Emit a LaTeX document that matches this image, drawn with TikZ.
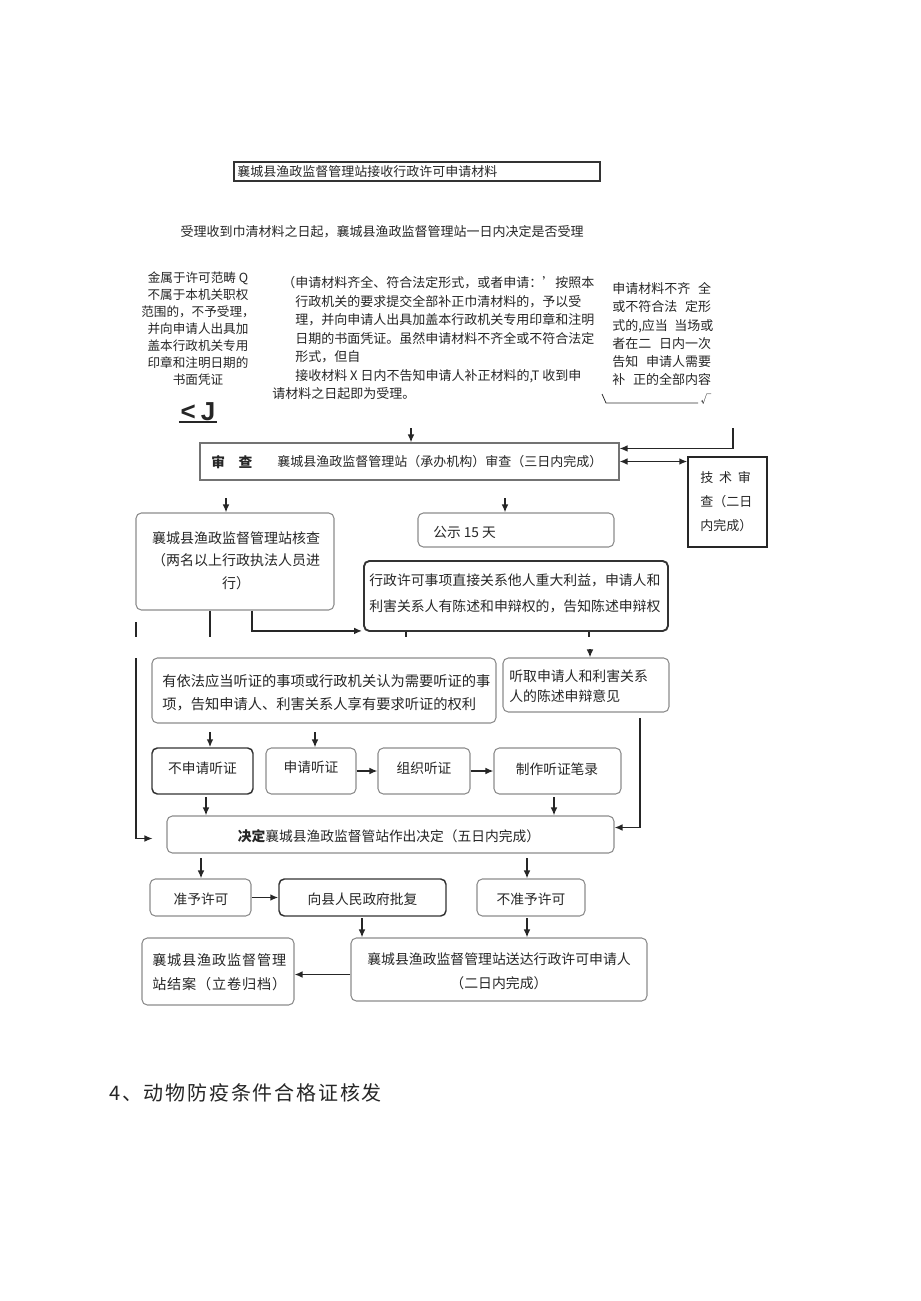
\documentclass[tikz,border=0pt]{standalone}
\usepackage{fontspec}
\setmainfont{Noto Sans CJK SC}
\newfontfamily\headfont{Noto Sans CJK SC}[LetterSpace=9]
\newfontfamily\ljfont{Liberation Sans}
\usetikzlibrary{arrows.meta,calc,fit}
\begin{document}
\begin{tikzpicture}[x=0.75pt,y=-0.75pt,
  every node/.style={inner sep=0pt, text=black!85},
  gbox/.style={draw=black!45, line width=0.8pt, rounded corners=4pt, inner sep=0pt},
  dbox/.style={draw=black!80, line width=1.1pt, rounded corners=4pt, inner sep=0pt},
  sbox/.style={draw=black!55, line width=0.8pt, inner sep=0pt},
  ln/.style={draw=black!85, line width=1.1pt},
  arr/.style={ln, -{Latex[length=6pt,width=5pt]}},
  arrtwo/.style={ln, {Latex[length=6pt,width=5pt]}-{Latex[length=6pt,width=5pt]}},
  fa/.style={font=\fontsize{9.75pt}{13.65pt}\selectfont},
  fm/.style={font=\fontsize{9.75pt}{13.9pt}\selectfont},
  fl/.style={font=\fontsize{9.45pt}{12.7pt}\selectfont},
  fb/.style={font=\fontsize{10.3pt}{14pt}\selectfont},
]
\useasboundingbox[fill=white] (0,0) rectangle (920,1301);

% ---------- top part ----------
\node[sbox, draw=black!80, fit={(234,162) (600,181)}] (top) {};
\node[fa, anchor=west] (ttop) at (237,172) {襄城县渔政监督管理站接收行政许可申请材料};
\node[fa] (accept) at (382,232) {受理收到巾清材料之日起，襄城县渔政监督管理站一日内决定是否受理};

\node[fl, anchor=north, align=center] (refuse) at (198,271.6) {金属于许可范畴 Q\\不属于本机关职权\\范围的，不予受理，\\并向申请人出具加\\盖本行政机关专用\\印章和注明日期的\\书面凭证};
\node[font=\ljfont\bfseries\fontsize{19.5pt}{20pt}\selectfont, anchor=base] (lj) at (198,420) {<\hspace{0.2em}J};
\draw[line width=1.5pt, black!85] ([yshift=-1.5pt,xshift=-1pt]lj.base west) -- ([yshift=-1.5pt,xshift=1pt]lj.base east);

\node[fm, anchor=north west, align=left] (acceptyes) at (272,276.3) {\hspace*{7.5pt}（申请材料齐全、符合法定形式，或者申请：’按照本\\
\hspace*{17.25pt}行政机关的要求提交全部补正巾清材料的，予以受\\
\hspace*{17.25pt}理，并向申请人出具加盖本行政机关专用印章和注明\\
\hspace*{17.25pt}日期的书面凭证。虽然申请材料不齐全或不符合法定\\
\hspace*{17.25pt}形式，但自\\
\hspace*{17.25pt}接收材料 X 日内不告知申请人补正材料的,T 收到申\\
请材料之日起即为受理。};

\node[fa, anchor=north west, align=left] (incomplete) at (612,282.4) {申请材料不齐\hspace{.6em}全\\或不符合法\hspace{.6em}定形\\式的,应当\hspace{.5em}当场或\\者在二\hspace{.6em}日内一次\\告知\hspace{.6em}申请人需要\\补\hspace{.6em}正的全部内容};
\coordinate (ck1) at (602,394);
\coordinate (ck2) at (606,403);
\coordinate (ck3) at (698,403);
\draw[black!80, line width=0.6pt] (ck1) -- (ck2) -- (ck3);
\node[font=\fontsize{8pt}{8pt}\selectfont] (ckmark) at (706,399) {√};

% ---------- boxes ----------
\node[sbox, fit={(200,443) (619,480)}] (shencha) {};
\node[fb, anchor=west] (tsc1) at (211,462) {\bfseries 审\hspace{1em}查};
\node[fm, anchor=west] (tsc2) at (277,462) {襄城县渔政监督管理站（承办机构）审查（三日内完成）};

\node[sbox, draw=black!85, line width=1pt, fit={(688,457) (767,547)}] (jishu) {};
\node[fa, anchor=north west, align=left, font=\fontsize{9.75pt}{18pt}\selectfont] (tjs) at (700,471.4) {技\hspace{.45em}术\hspace{.45em}审\\查（二日\\内完成）};

\node[gbox, fit={(136,513) (334,610)}] (hecha) {};
\node[fb, anchor=north, align=center, font=\fontsize{10.5pt}{17pt}\selectfont] (thc) at (236,531) {襄城县渔政监督管理站核查\\（两名以上行政执法人员进\\行）};

\node[gbox, fit={(418,513) (614,547)}] (gongshi) {};
\node[fb, anchor=west] (tgs) at (433,532) {公示 15 天};

\node[dbox, line width=1.4pt, fit={(364,561) (668,631)}] (xingzheng) {};
\node[fb, anchor=north west, align=left, font=\fontsize{10.4pt}{19pt}\selectfont] (txz) at (369,574) {行政许可事项直接关系他人重大利益，申请人和\\利害关系人有陈述和申辩权的，告知陈述申辩权};

\node[gbox, fit={(152,658) (496,723)}] (youyifa) {};
\node[fb, anchor=north west, align=left, font=\fontsize{10.7pt}{17.5pt}\selectfont] (tyyf) at (162,674) {有依法应当听证的事项或行政机关认为需要听证的事\\项，告知申请人、利害关系人享有要求听证的权利};

\node[gbox, fit={(503,658) (669,712)}] (tingqu) {};
\node[fb, anchor=north west, align=left, font=\fontsize{10.4pt}{15pt}\selectfont] (ttq) at (509,669) {听取申请人和利害关系\\人的陈述申辩意见};

\node[dbox, fit={(152,748) (253,794)}] (bushen) {};
\node[fb] (tbs) at (202.5,768) {不申请听证};
\node[gbox, fit={(266,748) (356,794)}] (shenqing) {};
\node[fb] (tsq) at (311,767) {申请听证};
\node[gbox, fit={(378,748) (470,794)}] (zuzhi) {};
\node[fb] (tzz) at (424,768) {组织听证};
\node[gbox, fit={(494,748) (621,794)}] (zhizuo) {};
\node[fb] (tzzb) at (557,769) {制作听证笔录};

\node[gbox, fit={(167,816) (614,853)}] (jueding) {};
\node[fb] (tjd) at (389,836) {\textbf{决定}襄城县渔政监督管站作出决定（五日内完成）};

\node[gbox, fit={(150,879) (251,916)}] (zhunyu) {};
\node[fb] (tzy) at (201,899) {准予许可};
\node[dbox, fit={(279,879) (446,916)}] (xiangxian) {};
\node[fb] (txx) at (362.5,899) {向县人民政府批复};
\node[gbox, fit={(477,879) (585,916)}] (buzhunyu) {};
\node[fb] (tbzy) at (531,899) {不准予许可};

\node[gbox, fit={(351,938) (647,1001)}] (songda) {};
\node[fb, align=center, font=\fontsize{10.4pt}{18pt}\selectfont] (tsd) at (499,971) {襄城县渔政监督管理站送达行政许可申请人\\（二日内完成）};
\node[gbox, fit={(142,938) (294,1005)}] (jiean) {};
\node[anchor=north west, align=left, font=\fontsize{10.6pt}{18pt}\selectfont] (tja) at (152,953) {\addfontfeatures{LetterSpace=6}襄城县渔政监督管理\\\addfontfeatures{LetterSpace=6}站结案（立卷归档）};

\node[anchor=west, font=\headfont\fontsize{15pt}{18pt}\selectfont] (heading) at (109,1093) {4、动物防疫条件合格证核发};

% ---------- connectors ----------
\coordinate (c1) at (411,428);
\draw[arr] (c1) -- (c1 |- shencha.north);
\coordinate (c2) at (733,428);
\draw[arr] (c2) |- ($(shencha.north east)+(0,6)$);
\draw[arrtwo] (shencha.east) -- (shencha.east -| jishu.west);

\coordinate (c3) at (226,498);
\draw[arr] (c3) -- (c3 |- hecha.north);
\coordinate (c4) at (505,498);
\draw[arr] (c4) -- (c4 |- gongshi.north);

\coordinate (c5) at (210,637);
\draw[ln] (hecha.south -| c5) -- (c5);
\coordinate (c6) at (252,631);
\draw[arr] (hecha.south -| c6) |- ($(xingzheng.south west)+(-1,-1)$);

\coordinate (c7a) at (136,622);
\coordinate (c7b) at (136,637);
\draw[ln, line width=0.8pt] (c7a) -- (c7b);
\coordinate (c8) at (136,658);
\draw[arr, line width=0.8pt] (c8) |- ($(jueding.west)+(-14,4)$);

\coordinate (c9) at (406,637);
\draw[ln] (xingzheng.south -| c9) -- (c9);
\coordinate (c10) at (589,637);
\draw[ln] (xingzheng.south -| c10) -- (c10);
\coordinate (c11) at (590,649);
\draw[arr] (c11) -- (c11 |- tingqu.north);

\coordinate (c12) at (210,732);
\draw[arr] (c12) -- (c12 |- bushen.north);
\coordinate (c13) at (315,732);
\draw[arr] (c13) -- (c13 |- shenqing.north);

\coordinate (c14) at (206,797);
\draw[arr] (c14) -- (c14 |- jueding.north);
\draw[arr] (shenqing.east) -- (zuzhi.west);
\draw[arr] (zuzhi.east) -- (zhizuo.west);
\coordinate (c15) at (554,797);
\draw[arr] (c15) -- (c15 |- jueding.north);
\coordinate (c16) at (640,718);
\draw[arr] (c16) |- ($(jueding.east)+(0,-7)$);

\coordinate (c17) at (201,858);
\draw[arr] (c17) -- (c17 |- zhunyu.north);
\coordinate (c18) at (527,858);
\draw[arr] (c18) -- (c18 |- buzhunyu.north);
\draw[arr] (zhunyu.east) -- (xiangxian.west);
\coordinate (c19) at (362,918);
\draw[arr] (c19) -- (c19 |- songda.north);
\coordinate (c20) at (527,918);
\draw[arr] (c20) -- (c20 |- songda.north);
\draw[arr] ($(songda.west)+(0,5)$) -- ($(jiean.east)+(0,3)$);
\end{tikzpicture}
\end{document}
